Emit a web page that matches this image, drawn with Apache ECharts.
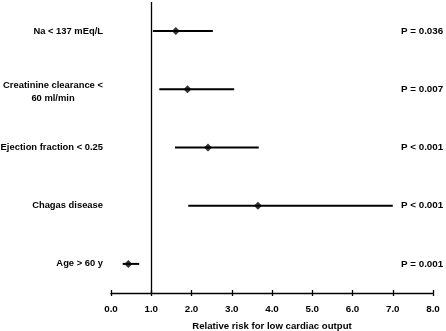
<!DOCTYPE html>
<html>
<head>
<meta charset="utf-8">
<script src="https://cdn.jsdelivr.net/npm/echarts@6/dist/echarts.min.js"></script>
<style>
  html, body { margin: 0; padding: 0; background: #fff; }
  #chart { width: 446px; height: 331px; }
</style>
</head>
<body>
<div id="chart"></div>
<script>
// rows from top to bottom
const factors = ['Na < 137 mEq/L', 'Creatinine clearance <\n60 ml/min', 'Ejection fraction < 0.25', 'Chagas disease', 'Age > 60 y']
const riskPoint = [1.61, 1.9, 2.41, 3.65, 0.43]
const ciLow = [1.04, 1.2, 1.59, 1.92, 0.29]
const ciHigh = [2.53, 3.06, 3.67, 7.0, 0.7]
const pValues = ['P = 0.036', 'P = 0.007', 'P < 0.001', 'P < 0.001', 'P = 0.001']
const xTicks = ['0.0', '1.0', '2.0', '3.0', '4.0', '5.0', '6.0', '7.0', '8.0']

const font = 'Liberation Sans, Arial, sans-serif'
const chart = echarts.init(document.getElementById('chart'))

const catLabel = {
  color: '#000',
  fontFamily: font,
  fontWeight: 'bold',
  fontSize: 9.4,
}

const option = {
  animation: false,
  grid: { left: 111, right: 13, top: 2, bottom: 38, outerBoundsMode: 'none', containLabel: false },
  xAxis: [
    {
      type: 'value',
      min: 0,
      max: 8,
      interval: 1,
      name: 'Relative risk for low cardiac output',
      nameLocation: 'middle',
      nameGap: 28,
      nameTextStyle: { ...catLabel, fontSize: 9.6 },
      axisLine: { show: true, lineStyle: { color: '#000', width: 1.3 } },
      axisTick: { show: true, length: 3, lineStyle: { color: '#000', width: 1.3 } },
      axisLabel: {
        ...catLabel,
        fontSize: 9.8,
        margin: 11,
        formatter: (v) => xTicks[Math.round(v)],
      },
      splitLine: { show: false },
    },
    {
      // second copy only for the inner half of the cross ticks
      type: 'value',
      position: 'bottom',
      min: 0,
      max: 8,
      interval: 1,
      axisLine: { show: false },
      axisTick: { show: true, inside: true, length: 3, lineStyle: { color: '#000', width: 1.3 } },
      axisLabel: { show: false },
      splitLine: { show: false },
    },
  ],
  yAxis: [
    {
      type: 'category',
      inverse: true,
      data: factors,
      axisLine: { show: false },
      axisTick: { show: false },
      axisLabel: {
        ...catLabel,
        margin: 8,
        formatter: (v) => {
          if (v.indexOf('\n') >= 0) {
            return v.split('\n').map((s) => '{c|' + s + '}').join('\n')
          }
          return v
        },
        rich: {
          c: { ...catLabel, width: 100, align: 'center', lineHeight: 13, padding: [5, 0, 0, 0] },
        },
      },
    },
    {
      type: 'category',
      inverse: true,
      position: 'right',
      offset: -30,
      data: pValues,
      axisLine: { show: false },
      axisTick: { show: false },
      axisLabel: { ...catLabel, margin: -2, fontSize: 9.8 },
    },
  ],
  series: [
    {
      type: 'custom',
      renderItem: (params, api) => {
        const y = api.value(0)
        const a = api.coord([api.value(1), y])
        const b = api.coord([api.value(2), y])
        return {
          type: 'line',
          shape: { x1: a[0], y1: a[1], x2: b[0], y2: b[1] },
          style: { stroke: '#000', lineWidth: 2 },
        }
      },
      encode: { x: [1, 2], y: 0 },
      data: factors.map((f, i) => [i, ciLow[i], ciHigh[i]]),
      markLine: {
        silent: true,
        symbol: 'none',
        label: { show: false },
        lineStyle: { color: '#000', width: 1.3, type: 'solid' },
        data: [{ xAxis: 1 }],
      },
    },
    {
      type: 'scatter',
      symbol: 'diamond',
      symbolSize: 8,
      itemStyle: { color: '#000' },
      data: riskPoint.map((v, i) => [v, i]),
      z: 5,
    },
  ],
}

chart.setOption(option)
</script>
</body>
</html>
